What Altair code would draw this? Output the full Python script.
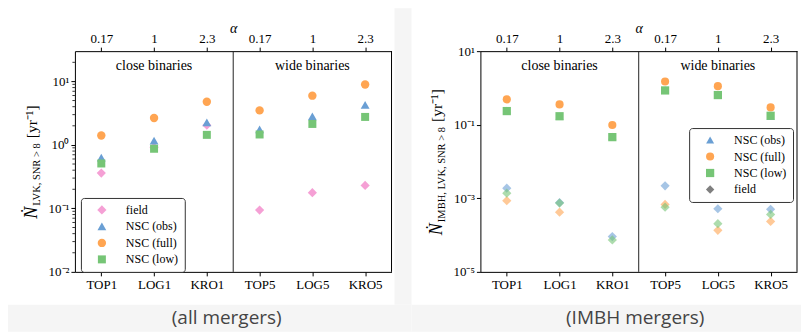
import json
import math
import altair as alt
import pandas as pd

# ---------------- data ----------------
categories = ["TOP1", "LOG1", "KRO1", "TOP5", "LOG5", "KRO5"]
alphas = ["0.17", "1", "2.3", "0.17", "1", "2.3"]
group_labels = ["close binaries", "wide binaries"]
group_pos = [1, 4]
captions = ["(all mergers)", "(IMBH mergers)"]

series_all = ["field", "NSC (obs)", "NSC (full)", "NSC (low)"]
series_imbh = ["NSC (obs)", "NSC (full)", "NSC (low)", "field"]

# all mergers
all_field = [0.36, 0.92, 2.04, 0.094, 0.177, 0.23]
all_obs = [0.63, 1.17, 2.27, 1.76, 2.82, 4.27]
all_full = [1.41, 2.66, 4.8, 3.5, 5.97, 8.97]
all_low = [0.51, 0.87, 1.44, 1.46, 2.14, 2.76]

# IMBH mergers
imbh_obs = [0.25, 0.172, 0.049, 0.89, 0.65, 0.169]
imbh_full = [0.49, 0.357, 0.098, 1.5, 1.12, 0.296]
imbh_low = [0.235, 0.17, 0.046, 0.855, 0.64, 0.175]
imbh_field_obs = [1.89e-3, 7.6e-4, 9.1e-5, 2.18e-3, 5.2e-4, 5.0e-4]
imbh_field_full = [8.6e-4, 4.2e-4, None, 6.8e-4, 1.35e-4, 2.35e-4]
imbh_field_low = [1.38e-3, 7.4e-4, 7.4e-5, 5.75e-4, 2.04e-4, 3.65e-4]

left_yticks = [0.01, 0.1, 1, 10]
left_ylabels = ["10\u207b\u00b2", "10\u207b\u00b9", "10\u2070", "10\u00b9"]
right_yticks = [1e-5, 1e-3, 1e-1, 10]
right_ylabels = ["10\u207b\u2075", "10\u207b\u00b3", "10\u207b\u00b9", "10\u00b9"]
left_minor = [m * 10.0 ** k for k in (-2, -1, 0) for m in range(2, 10)] + [20.0]

# ---------------- style ----------------
SERIF = "Liberation Serif"
BLUE, ORANGE, GREEN, PINK, GRAY = "#6a9fd4", "#ffa552", "#76c576", "#f5a0d5", "#7f7f7f"
PAGE = "#f5f5f5"
W, H = 317, 221

TW = {'L': .611, 'V': .722, 'K': .722, ',': .25, ' ': .25, 'S': .556, 'N': .722,
      'R': .667, '>': .564, '8': .5, 'I': .333, 'M': .889, 'B': .667, 'H': .722,
      '[': .333, ']': .333, 'y': .5, 'r': .333, '\u207b': .4, '\u00b9': .3, '\u1e44': .667}


def tw(s, fs):
    return sum(TW.get(c, .5) for c in s) * fs


def label_expr_index(labels):
    return json.dumps(labels) + "[round(datum.value)]"


def label_expr_log(vals, labels):
    expr = "''"
    for v, lab in zip(vals, labels):
        e = round(math.log10(v))
        expr = f"round(log(datum.value)/LN10) == {e} ? '{lab}' : " + expr
    return expr


one = pd.DataFrame({"k": [0]})


def strip(x1, x2, y1, y2):
    return alt.Chart(one).mark_rect(color=PAGE).encode(
        x=alt.value(x1), x2=alt.value(x2), y=alt.value(y1), y2=alt.value(y2))


def panel(points, color_domain, color_range, shape_range, size_range, ydomain,
          yticks, ylabels, minor, sub, caption, cap_x, legend_xy, strips, extra=None):
    xs = alt.Scale(domain=[-0.5, 5.5], nice=False, zero=False)
    ys = alt.Scale(type="log", domain=ydomain, nice=False)
    y_axis = alt.Axis(orient="left", values=yticks, title=None,
                      labelExpr=label_expr_log(yticks, ylabels), tickSize=4,
                      labelPadding=2)

    legend = alt.Legend(orient="none", legendX=legend_xy[0], legendY=legend_xy[1],
                        title=None, padding=6, symbolOffset=9, labelOffset=18,
                        rowPadding=4.5, fillColor="white", strokeColor="#333333",
                        cornerRadius=3, labelFont=SERIF, labelFontSize=12,
                        labelColor="black", symbolSize=45, symbolStrokeWidth=0)
    cscale = alt.Scale(domain=color_domain, range=color_range)

    layers = [strip(*s) for s in strips]

    pts = alt.Chart(points).mark_point(filled=True, opacity=1).encode(
        x=alt.X("idx:Q", scale=xs,
                axis=alt.Axis(orient="bottom", values=list(range(6)), title=None,
                              labelExpr=label_expr_index(categories), tickSize=4,
                              labelPadding=3)),
        y=alt.Y("value:Q", scale=ys, axis=y_axis),
        color=alt.Color("series:N", scale=cscale, legend=legend),
        shape=alt.Shape("series:N", scale=alt.Scale(domain=color_domain, range=shape_range),
                        legend=legend),
        size=alt.Size("series:N", scale=alt.Scale(domain=color_domain, range=size_range),
                      legend=None),
    )
    layers.append(pts)

    if extra is not None:
        layers.append(alt.Chart(extra).mark_point(filled=True, shape="diamond", size=85,
                                                  opacity=0.6).encode(
            x=alt.X("idx:Q", scale=xs, axis=None),
            y=alt.Y("value:Q", scale=ys, axis=y_axis),
            color=alt.Color("hex:N", scale=None)))

    sep = alt.Chart(pd.DataFrame({"x": [2.5]})).mark_rule(color="#222222", strokeWidth=1).encode(
        x=alt.X("x:Q", scale=xs,
                axis=alt.Axis(orient="top", values=list(range(6)), title="\u03b1",
                              labelExpr=label_expr_index(alphas), tickSize=4,
                              labelPadding=2, titleFont=SERIF, titleFontStyle="italic",
                              titleFontWeight="normal", titleFontSize=14, titlePadding=-3)))
    frame_r = alt.Chart(pd.DataFrame({"x": [5.5]})).mark_rule(color="black", strokeWidth=1).encode(
        x=alt.X("x:Q", scale=xs, axis=None))

    groups = alt.Chart(pd.DataFrame({"pos": group_pos, "label": group_labels})).mark_text(
        font=SERIF, fontSize=14, color="black", baseline="middle").encode(
        x=alt.X("pos:Q", scale=xs, axis=None), y=alt.value(15), text="label:N")
    layers += [sep, frame_r, groups]

    if minor:
        layers.append(alt.Chart(pd.DataFrame({"v": minor})).mark_rule(
            color="black", strokeWidth=0.8).encode(
            y=alt.Y("v:Q", scale=ys, axis=y_axis), x=alt.value(-2.5), x2=alt.value(0)))

    # y-axis title built from pieces: N-dot, subscript, unit
    fN, fS, fU = 18, 10.5, 15.5
    wN, wS, wU = tw("\u1e44", fN), tw(sub, fS), tw("[yr\u207b\u00b9]", fU)
    g1, g2 = 1.0, 4.0
    total = wN + g1 + wS + g2 + wU
    y0 = H / 2 + total / 2
    pieces = [
        ("\u1e44", fN, "italic", y0, -38),
        (sub, fS, "normal", y0 - wN - g1, -35),
        ("[yr\u207b\u00b9]", fU, "normal", y0 - wN - g1 - wS - g2, -38),
    ]
    for txt, fs, style, yy, xx in pieces:
        layers.append(alt.Chart(one).mark_text(
            text=txt, font=SERIF, fontSize=fs, fontStyle=style, angle=270,
            align="left", baseline="alphabetic", color="black").encode(
            x=alt.value(xx), y=alt.value(yy)))

    layers.append(alt.Chart(one).mark_text(
        text=caption, font="Open Sans", fontSize=19, color="#444444",
        align="center", baseline="alphabetic").encode(
        x=alt.value(cap_x), y=alt.value(273)))

    return alt.layer(*layers).properties(width=W, height=H)


def long_df(series_names, arrays, colors=None):
    rows = []
    for j, (name, arr) in enumerate(zip(series_names, arrays)):
        for i, v in enumerate(arr):
            if v is not None:
                r = {"idx": i, "value": v, "series": name}
                if colors:
                    r["hex"] = colors[j]
                rows.append(r)
    return pd.DataFrame(rows)


left_df = long_df(series_all, [all_field, all_obs, all_full, all_low])
right_df = long_df(["NSC (obs)", "NSC (full)", "NSC (low)"], [imbh_obs, imbh_full, imbh_low])
right_field_df = long_df(["NSC (obs)", "NSC (full)", "NSC (low)"],
                         [imbh_field_obs, imbh_field_full, imbh_field_low],
                         colors=[BLUE, ORANGE, GREEN])

left = panel(left_df, series_all, [PINK, BLUE, ORANGE, GREEN],
             ["diamond", "triangle-up", "circle", "square"], [85, 64, 70, 50],
             [0.01, 30], left_yticks, left_ylabels, left_minor,
             "LVK, SNR > 8", captions[0], 152, (6, 147),
             strips=[(-67, W + 20, 254, 281), (W + 3, W + 20, -43, 254)])

right = panel(right_df, series_imbh, [BLUE, ORANGE, GREEN, GRAY],
              ["triangle-up", "circle", "square", "diamond"], [64, 70, 50, 85],
              [1e-5, 10], right_yticks, right_ylabels, None,
              "IMBH, LVK, SNR > 8", captions[1], 155, (209, 77),
              strips=[(-69, W + 4, 254, 281)], extra=right_field_df)

chart = alt.hconcat(left, right, spacing=89, bounds="flush").resolve_scale(
    color="independent", shape="independent", size="independent"
).resolve_legend(
    color="independent", shape="independent"
).properties(
    padding=0, background="white"
).configure_view(stroke=None).configure_axis(
    labelFont=SERIF, labelFontSize=13, labelColor="black", domainColor="black",
    tickColor="black", domainWidth=1, tickWidth=1, grid=False,
    titleColor="black"
).configure_legend(strokeWidth=1)

chart.save("out.html", embed_options={"renderer": "svg", "actions": False})
